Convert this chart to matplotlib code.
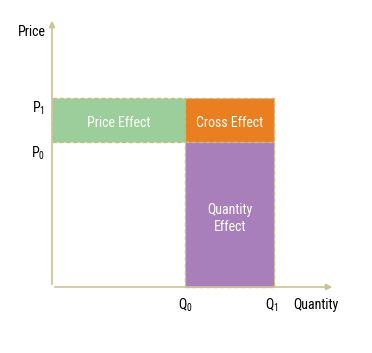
import matplotlib.pyplot as plt
from matplotlib import font_manager
from matplotlib.patches import Rectangle

# quantities and prices on the diagram
q0, q1 = 6, 10
p0, p1 = 10, 13
regions = ['Price Effect', 'Cross Effect', 'Quantity\nEffect']
colors = ['#9bce9a', '#ea7f22', '#a87ebb']

names = {f.name for f in font_manager.fontManager.ttflist}
fam = 'Roboto'
for cand in ['Roboto Condensed', 'Liberation Sans Narrow', 'Open Sans Condensed']:
    if cand in names:
        fam = cand
        break

plt.rcParams['font.family'] = [fam, 'DejaVu Sans']
plt.rcParams['mathtext.fontset'] = 'custom'
plt.rcParams['mathtext.rm'] = fam
plt.rcParams['mathtext.default'] = 'regular'

fig = plt.figure(figsize=(3.72, 3.53), dpi=100)
ax = fig.add_axes([0, 0, 1, 1])
ax.set_xlim(-2.342, 14.41)
ax.set_ylim(-4.55, 19.79)
ax.axis('off')

axis_col = '#cbc392'
dash_col = '#c9bb7c'

# rectangles: price effect, cross effect, quantity effect
rects = [(0, p0, q0, p1 - p0), (q0, p0, q1 - q0, p1 - p0), (q0, 0, q1 - q0, p0)]
for (x, y, w, h), c in zip(rects, colors):
    ax.add_patch(Rectangle((x, y), w, h, facecolor=c, edgecolor=dash_col,
                           linestyle=(0, (3, 2)), linewidth=1.0, zorder=2))

fs = 10
mid = (p0 + p1) / 2 - 0.2
ax.text(q0 / 2, mid, regions[0], color='white', fontsize=fs, ha='center', va='center', zorder=3)
ax.text((q0 + q1) / 2, mid, regions[1], color='white', fontsize=fs, ha='center', va='center', zorder=3)
ax.text((q0 + q1) / 2, 4.7, regions[2], color='white', fontsize=fs, ha='center', va='center',
        linespacing=1.25, zorder=3)

# axes with arrows
ax.annotate('', xy=(0, 18.55), xytext=(0, 0),
            arrowprops=dict(arrowstyle='-|>', color=axis_col, lw=1.2, mutation_scale=9), zorder=4)
ax.annotate('', xy=(12.75, 0), xytext=(0, 0),
            arrowprops=dict(arrowstyle='-|>', color=axis_col, lw=1.2, mutation_scale=9), zorder=4)

ax.text(-0.3, 17.6, 'Price', fontsize=fs, ha='right', va='center')
ax.text(-0.3, p1 - 0.65, r'P$_1$', fontsize=fs, ha='right', va='center')
ax.text(-0.3, p0 - 0.75, r'P$_0$', fontsize=fs, ha='right', va='center')
ax.text(q0, -1.25, r'Q$_0$', fontsize=fs, ha='center', va='center')
ax.text(q1 - 0.1, -1.25, r'Q$_1$', fontsize=fs, ha='center', va='center')
ax.text(10.85, -1.25, 'Quantity', fontsize=fs, ha='left', va='center')

fig.savefig('out.png', dpi=100)
